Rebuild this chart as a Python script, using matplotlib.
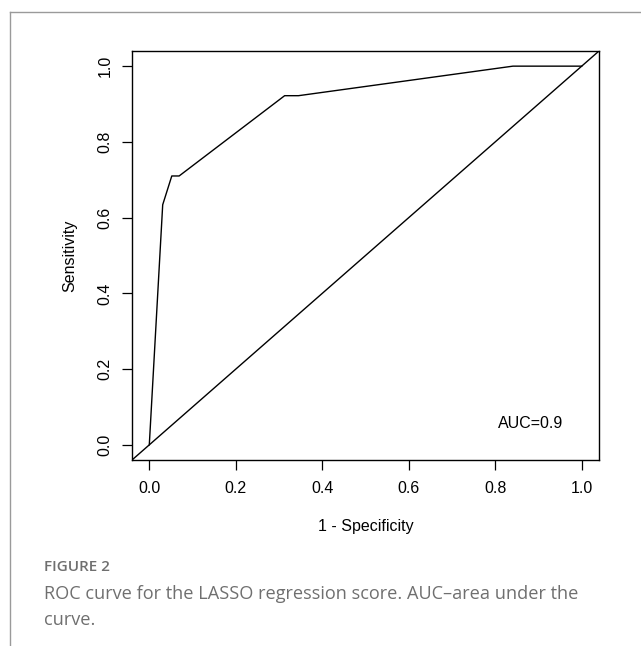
import matplotlib
matplotlib.use("Agg")
import matplotlib.pyplot as plt
from matplotlib.lines import Line2D

# ROC curve points
fpr = [0.0, 0.031, 0.052, 0.069, 0.313, 0.345, 0.841, 1.0]
tpr = [0.0, 0.634, 0.710, 0.710, 0.922, 0.922, 1.0, 1.0]
ticks = [0.0, 0.2, 0.4, 0.6, 0.8, 1.0]
tick_labels = ["0.0", "0.2", "0.4", "0.6", "0.8", "1.0"]
auc_text = "AUC=0.9"

W, H = 641, 646
fig = plt.figure(figsize=(W / 100, H / 100), dpi=100)
plt.rcParams['font.family'] = ['Liberation Sans', 'DejaVu Sans']

# axes box in pixels: left 132, right 599, top 51, bottom 460
L, R, T, B = 132, 599, 51, 460
ax = fig.add_axes([L / W, (H - B) / H, (R - L) / W, (B - T) / H])

ax.plot(fpr, tpr, color='black', lw=1.0)
ax.axline((0, 0), (1, 1), color='black', lw=1.0)
ax.set_xlim(-0.04, 1.04)
ax.set_ylim(-0.04, 1.04)

ax.set_xticks(ticks)
ax.set_xticklabels(tick_labels)
ax.set_yticks(ticks)
ax.set_yticklabels(tick_labels, rotation=90, va='center')
ax.tick_params(axis='both', direction='out', length=7, width=0.9, labelsize=11.5, colors='black')
ax.tick_params(axis='x', pad=8)
ax.tick_params(axis='y', pad=7)
for s in ax.spines.values():
    s.set_linewidth(1.0)

ax.set_xlabel("1 - Specificity", fontsize=11.5, va='center')
ax.xaxis.set_label_coords(0.5, -(527 - B) / (B - T))
ax.set_ylabel("Sensitivity", fontsize=11.5, va='center')
ax.yaxis.set_label_coords(-(L - 70) / (R - L), 0.5)

ax.text(0.882, 0.056, auc_text, fontsize=11.5, ha='center', va='center')

# outer panel frame (top and left edges only)
gray = '#9a9a9a'
fig.add_artist(Line2D([10 / W, 1.0], [1 - 12 / H, 1 - 12 / H], color=gray, lw=1.0))
fig.add_artist(Line2D([10 / W, 10 / W], [0.0, 1 - 12 / H], color=gray, lw=1.0))

# caption
cap_color = '#6f6f6f'
fig.text(44 / W, 1 - 567 / H, "FIGURE 2", fontsize=11, color=cap_color,
         family=['Open Sans', 'DejaVu Sans'], fontweight='semibold', va='center')
fig.text(44 / W, 1 - 594 / H,
         "ROC curve for the LASSO regression score. AUC\u2013area under the",
         fontsize=13.1, color=cap_color, family=['Open Sans', 'DejaVu Sans'], va='center')
fig.text(44 / W, 1 - 620 / H, "curve.", fontsize=13.1, color=cap_color,
         family=['Open Sans', 'DejaVu Sans'], va='center')

fig.savefig("out.png", dpi=100)
